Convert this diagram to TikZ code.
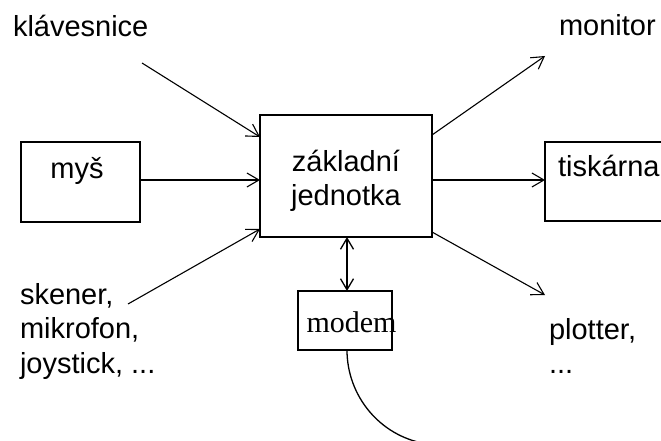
\documentclass[tikz,border=0pt]{standalone}
\usepackage{fontspec}
\setmainfont{Liberation Sans}
\newfontfamily\serifface{Liberation Serif}
\usetikzlibrary{arrows.meta}

\begin{document}
\begin{tikzpicture}[x=1pt,y=-1pt,
    every node/.style={inner sep=0pt, outer sep=0pt},
    lbl/.style={font=\fontsize{29}{34.5}\selectfont, align=left},
    unit/.style={draw, line width=1.1pt, rectangle},
    link/.style={line width=1.1pt, -{Straight Barb[length=12pt,width=14pt,line width=1.1pt]}},
    both/.style={line width=1.3pt, {Straight Barb[length=11pt,width=13pt,line width=1.3pt]}-{Straight Barb[length=11pt,width=13pt,line width=1.3pt]}},
    cable/.style={line width=1.3pt}]
  \useasboundingbox (0,0) rectangle (661,441);

  % boxes
  \node[unit, minimum width=172pt, minimum height=122pt] (main) at (346,176) {};
  \node[unit, minimum width=119pt, minimum height=80pt] (mys) at (80.5,182) {};
  \node[unit, minimum width=135pt, minimum height=79pt] (tisk) at (612.5,181.5) {};
  \node[unit, minimum width=94pt, minimum height=59pt] (modem) at (345,320.5) {};

  % texts
  \node[lbl, align=center, anchor=center] (mainlbl) at (346,181) {základní\\jednotka};
  \node[lbl, anchor=base] (myslbl) at (77,178) {myš};
  \node[lbl, anchor=base west] (tisklbl) at (558,176) {tiskárna};
  \node[anchor=base, font=\serifface\fontsize{30}{34}\selectfont] (modemlbl) at (351.5,332) {modem};
  \node[lbl, anchor=base west] (klav) at (13,37) {klávesnice};
  \node[lbl, anchor=base west] (mon) at (559,36) {monitor};
  \node[lbl, anchor=north west] (sken) at (20,283) {skener,\\mikrofon,\\joystick, ...};
  \node[lbl, anchor=north west] (plot) at (549,318) {plotter,\\...};

  % free ends of the connectors
  \coordinate (klavend) at (142,63);
  \coordinate (skenend) at (128,304);
  \coordinate (monend) at (545,56);
  \coordinate (plotend) at (545,295);

  % inputs
  \draw[link] (klavend) -- (main.west |- 0,137);
  \draw[link] (mys.east |- 0,180) -- (main.west |- 0,180);
  \draw[link] (skenend) -- (main.west |- 0,229);

  % outputs
  \draw[link] (main.east |- 0,135) -- (monend);
  \draw[link] (main.east |- 0,180) -- (tisk.west |- 0,180);
  \draw[link] (main.east |- 0,232) -- (plotend);

  % modem link and line
  \draw[both] (347,0 |- main.south) -- (347,0 |- modem.north);
  \draw[cable] (347,0 |- modem.south) .. controls (347,396) and (380,436) .. (425.5,443.6);
\end{tikzpicture}
\end{document}
